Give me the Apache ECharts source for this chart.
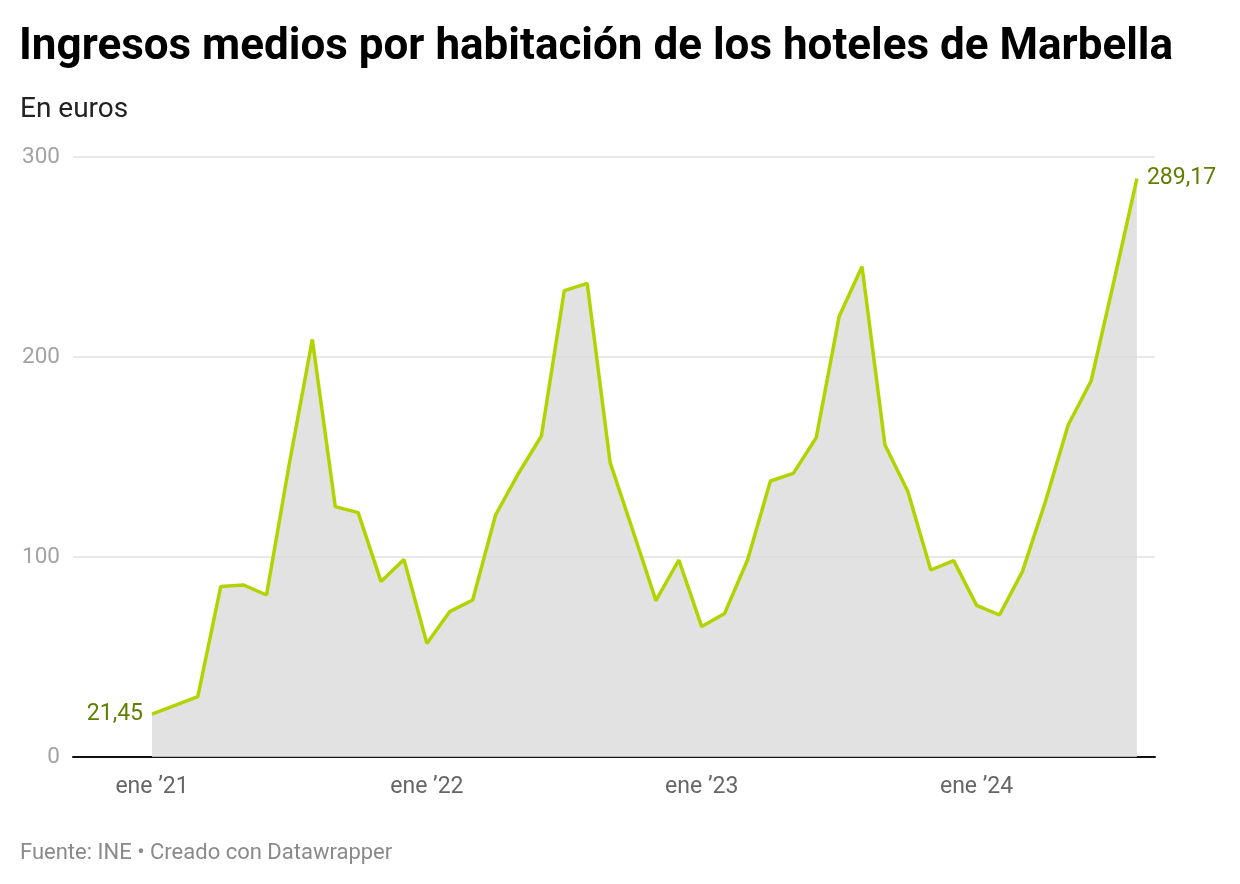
<!DOCTYPE html>
<html>
<head>
<meta charset="utf-8">
<script src="https://cdn.jsdelivr.net/npm/echarts@6/dist/echarts.min.js"></script>
<style>
  html, body { margin: 0; padding: 0; background: #fff; }
  #chart { width: 1240px; height: 884px; }
</style>
</head>
<body>
<div id="chart"></div>
<script>
// ingresos medios por habitación, ene 2021 - ago 2024
var values = [21.45, 25.8, 30.2, 85.2, 86, 81, 147, 208.8, 125.2, 122.2, 87.7, 98.8,
  56.8, 72.7, 78.5, 121, 141.8, 160.5, 233.2, 236.8, 147.3, 113, 78.2, 98.5,
  65.2, 71.8, 98.5, 138, 141.8, 159.7, 220.2, 245.2, 156, 132.7, 93.5, 98.2,
  75.8, 71, 92.7, 127.5, 166, 188, 238, 289.17];
var tickMonths = [0, 12, 24, 36];
var tickLabels = ['ene ’21', 'ene ’22', 'ene ’23', 'ene ’24'];

var chart = echarts.init(document.getElementById('chart'));

var fmt = function (v) { return v.toFixed(2).replace('.', ','); };
var last = values.length - 1;

var data = values.map(function (v, i) {
  var item = { value: [i, v] };
  if (i === 0) {
    item.label = { show: true, position: 'left', distance: 9, formatter: fmt(v) };
  } else if (i === last) {
    item.label = { show: true, position: 'right', distance: 10, formatter: fmt(v) };
  }
  return item;
});

var option = {
  backgroundColor: '#fff',
  animation: false,
  textStyle: { fontFamily: 'Roboto' },
  title: [{
    text: 'Ingresos medios por habitación de los hoteles de Marbella',
    left: 19, top: 26, padding: 0,
    textStyle: { fontSize: 44, fontWeight: 'bold', color: '#000', fontFamily: 'Roboto' }
  }, {
    text: 'En euros',
    left: 20, top: 96, padding: 0,
    textStyle: { fontSize: 28, fontWeight: 'normal', color: '#222', fontFamily: 'Roboto' }
  }, {
    text: 'Fuente: INE • Creado con Datawrapper',
    left: 20, top: 842, padding: 0,
    textStyle: { fontSize: 22, fontWeight: 'normal', color: '#8a8a8a', fontFamily: 'Roboto' }
  }],
  grid: { left: 73, right: 85, top: 157, bottom: 127 },
  xAxis: {
    type: 'value',
    min: -3.45,
    max: 43.79,
    splitLine: { show: false },
    axisTick: { show: false },
    axisLine: { show: true, onZero: false, lineStyle: { color: '#111', width: 2 } },
    axisLabel: {
      customValues: tickMonths,
      margin: 19,
      fontSize: 23,
      color: '#666',
      formatter: function (v) { return tickLabels[tickMonths.indexOf(v)] || ''; }
    }
  },
  yAxis: {
    type: 'value',
    min: 0, max: 300, interval: 100,
    axisLine: { show: false },
    axisTick: { show: false },
    axisLabel: { margin: 13, fontSize: 22.5, color: '#a3a3a3', padding: [6, 0, 0, 0] },
    splitLine: { lineStyle: { color: '#e2e2e2', width: 1.5 } }
  },
  series: [{
    type: 'line',
    data: data,
    symbol: 'circle',
    symbolSize: 0,
    showSymbol: true,
    lineStyle: { color: '#b3d300', width: 3.5 },
    itemStyle: { color: '#b3d300' },
    areaStyle: { color: 'rgb(219,219,219)', opacity: 0.8 },
    label: { color: '#5f7f00', fontSize: 23 },
    z: 3
  }]
};

chart.setOption(option);
</script>
</body>
</html>
